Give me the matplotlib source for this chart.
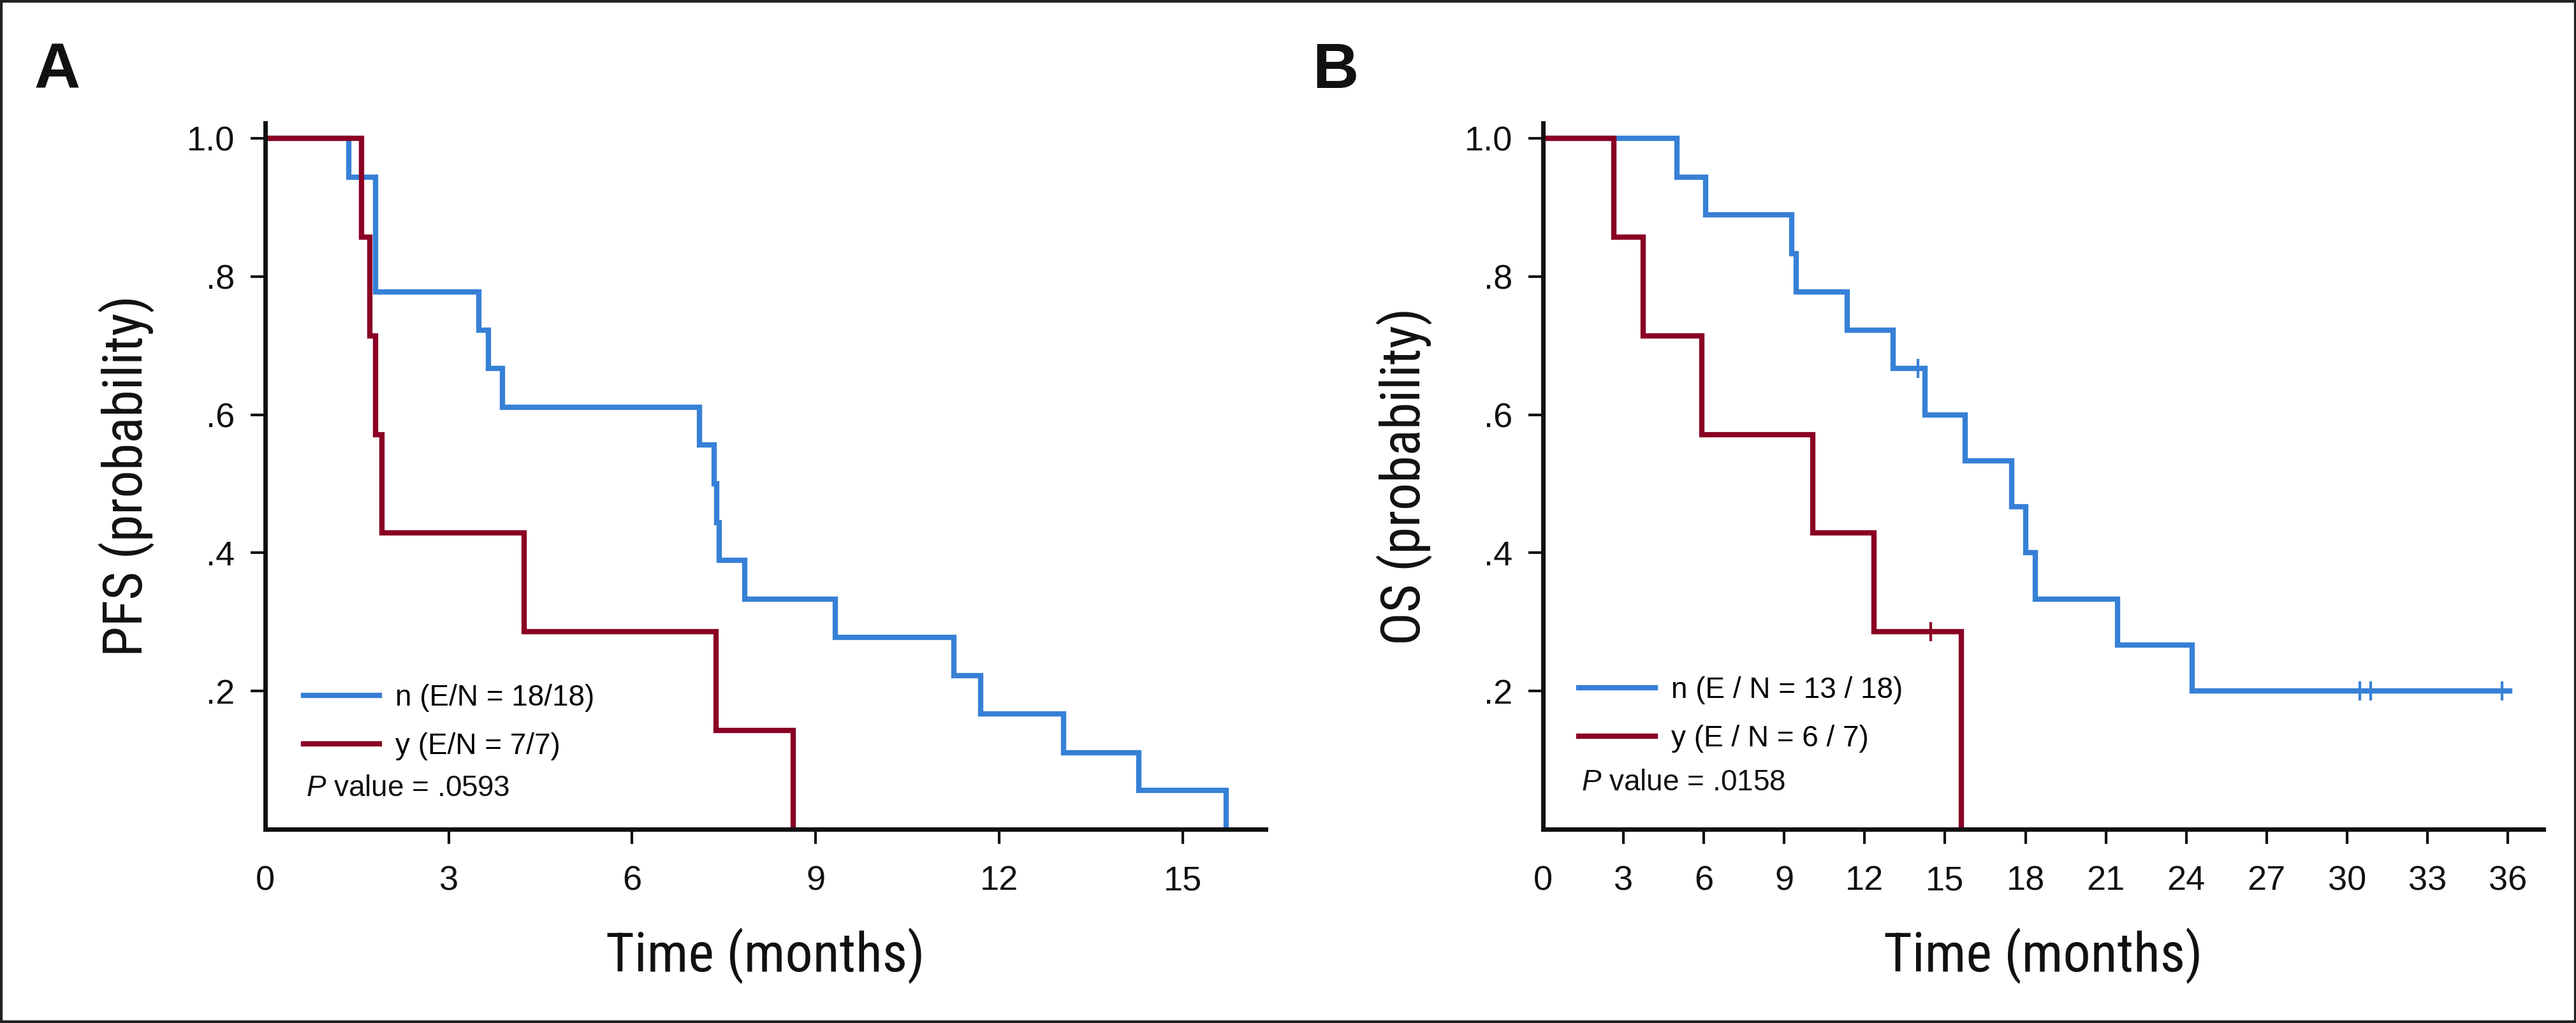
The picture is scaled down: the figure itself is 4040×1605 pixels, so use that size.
import matplotlib
matplotlib.use("Agg")
import matplotlib.pyplot as plt
from matplotlib import font_manager
from matplotlib.patches import Rectangle

plt.rcParams['font.family'] = ['Liberation Sans', 'DejaVu Sans']
plt.rcParams['mathtext.fontset'] = 'custom'
plt.rcParams['mathtext.it'] = 'Liberation Sans:italic'
plt.rcParams['mathtext.rm'] = 'Liberation Sans'

BLUE = '#3680d6'
RED = '#8a0024'


def narrow_font(size):
    # axis titles in the reference use a condensed sans; pick one if installed
    prefs = ['Liberation Sans Narrow', 'Noto Sans Condensed', 'Roboto Condensed',
             'Open Sans Condensed', 'DejaVu Sans Condensed']
    cands = []
    for f in font_manager.fontManager.ttflist:
        cond = ('Narrow' in f.name or 'Condensed' in f.name or
                str(f.stretch) in ('condensed', 'semi-condensed', 'extra-condensed', '500'))
        if cond and f.style == 'normal' and f.weight in (400, 'normal', 'regular'):
            cands.append(f)
    for p in prefs:
        for f in cands:
            if f.name == p:
                return font_manager.FontProperties(fname=f.fname, size=size)
    for f in cands:
        if 'Sans' in f.name or 'Roboto' in f.name or 'Lato' in f.name or 'Inter' in f.name:
            return font_manager.FontProperties(fname=f.fname, size=size)
    return font_manager.FontProperties(family='Liberation Sans', size=size * 0.8)


# ---- panel A: PFS ----
pfs_n_time = [0, 1.37, 1.80, 3.49, 3.65, 3.88, 7.10, 7.34, 7.38, 7.42, 7.84, 9.32, 11.26, 11.70, 13.05, 14.28, 15.71]
pfs_n_surv = [1.0, .944, .778, .722, .667, .611, .556, .500, .444, .389, .333, .278, .222, .167, .111, .056, 0.0]
pfs_y_time = [0, 1.57, 1.71, 1.80, 1.91, 4.23, 7.37, 8.63]
pfs_y_surv = [1.0, .857, .714, .571, .429, .286, .143, 0.0]

# ---- panel B: OS ----
os_n_time = [0, 5.00, 6.07, 9.28, 9.45, 11.35, 13.07, 14.24, 15.75, 17.48, 18.00, 18.37, 21.44, 24.22, 36.07]
os_n_surv = [1.0, .944, .889, .833, .778, .722, .667, .600, .533, .467, .400, .333, .267, .200, .200]
os_n_cens_t = [13.98, 30.47, 30.88, 35.78]
os_n_cens_s = [.667, .200, .200, .200]
os_y_time = [0, 2.65, 3.74, 5.93, 10.06, 12.36, 15.60]
os_y_surv = [1.0, .857, .714, .571, .429, .286, 0.0]
os_y_cens_t = [14.46]
os_y_cens_s = [.286]

panels = [
    dict(letter='A', ylabel='PFS (probability)', xmax=16.36, xticks=list(range(0, 16, 3)),
         n=(pfs_n_time, pfs_n_surv, [], []), y=(pfs_y_time, pfs_y_surv, [], []),
         labels=['n (E/N = 18/18)', 'y (E/N = 7/7)'], p='.0593',
         left=416, leg=(0.038, 0.206), ptxt=(0.041, 0.058)),
    dict(letter='B', ylabel='OS (probability)', xmax=37.33, xticks=list(range(0, 37, 3)),
         n=(os_n_time, os_n_surv, os_n_cens_t, os_n_cens_s),
         y=(os_y_time, os_y_surv, os_y_cens_t, os_y_cens_s),
         labels=['n (E / N = 13 / 18)', 'y (E / N = 6 / 7)'], p='.0158',
         left=2420, leg=(0.036, 0.217), ptxt=(0.038, 0.066)),
]

W, H = 4041, 1605
fig = plt.figure(figsize=(W / 100, H / 100), dpi=100)
lab_font = narrow_font(62)

for pnl in panels:
    ax = fig.add_axes([pnl['left'] / W, 1 - 1301 / H, 1569 / W, 1108 / H])
    handles = []
    for key, col in (('n', BLUE), ('y', RED)):
        t, s, ct, cs = pnl[key]
        ln, = ax.step(t, s, where='post', color=col, lw=6, solid_joinstyle='miter')
        if ct:
            ax.plot(ct, cs, ls='none', marker='|', ms=21, mew=3, color=col)
        handles.append(ln)

    ax.set_xlim(0, pnl['xmax'])
    ax.set_ylim(0, 1.022)
    ax.set_xticks(pnl['xticks'])
    ax.set_yticks([.2, .4, .6, .8, 1.0])
    ax.set_yticklabels(['.2', '.4', '.6', '.8', '1.0'])
    ax.xaxis.get_major_ticks()[0].tick1line.set_visible(False)
    for sp in ['top', 'right']:
        ax.spines[sp].set_visible(False)
    for sp in ['left', 'bottom']:
        ax.spines[sp].set_linewidth(5)
        ax.spines[sp].set_color('#111111')
    ax.tick_params(direction='out', length=16.5, width=3, color='#111111',
                   labelsize=39, labelcolor='#111111')
    ax.tick_params(axis='x', pad=24)
    ax.tick_params(axis='y', pad=18)

    ax.set_xlabel('Time (months)', fontproperties=lab_font, color='#111111')
    ax.xaxis.set_label_coords(0.5, -0.14)
    ax.set_ylabel(pnl['ylabel'], fontproperties=lab_font, color='#111111')
    ax.yaxis.set_label_coords(-0.11, 0.5)

    ax.legend(handles, pnl['labels'], loc='upper left', bbox_to_anchor=pnl['leg'],
              frameon=False, fontsize=33, handlelength=2.6, handletextpad=0.55,
              labelspacing=0.70, borderpad=0, borderaxespad=0)
    ax.text(pnl['ptxt'][0], pnl['ptxt'][1], r'$P$ value = ' + pnl['p'], transform=ax.transAxes,
            fontsize=33, va='center', ha='left', color='#111111')

    fig.text((pnl['left'] - 362) / W, 1 - 138 / H, pnl['letter'], fontsize=72,
             fontweight='bold', va='baseline', ha='left', color='#111111')

fig.patches.append(Rectangle((0, 0), 1, 1, transform=fig.transFigure, fill=False,
                             edgecolor='#222222', lw=6))

fig.savefig('out.png', dpi=100, facecolor='white')
